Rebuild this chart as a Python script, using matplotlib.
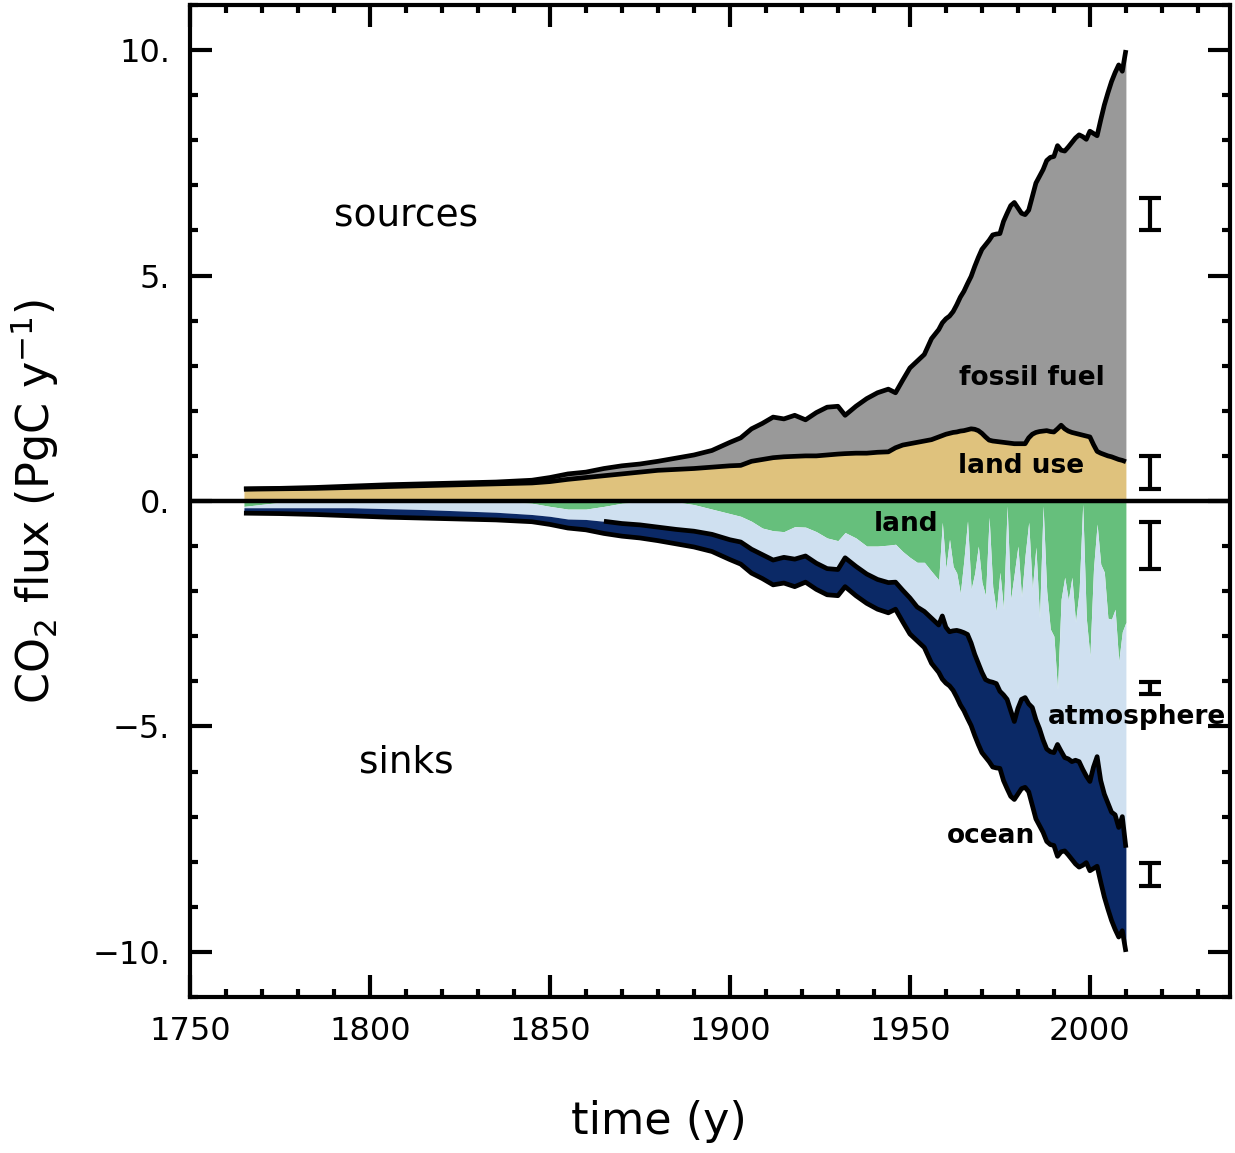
import numpy as np
import matplotlib
matplotlib.use('Agg')
import matplotlib.pyplot as plt
from matplotlib.ticker import MultipleLocator, FuncFormatter

plt.rcParams['font.family'] = ['DejaVu Sans']

# years: coarse before 1958, annual after
years = [1765, 1775, 1785, 1795, 1805, 1815, 1825, 1835, 1845,
         1850, 1855, 1860, 1865, 1870, 1875, 1880, 1885, 1890, 1895, 1900,
         1903, 1906, 1909, 1912, 1915, 1918, 1921, 1924, 1927, 1930,
         1932, 1935, 1938, 1941, 1944,
         1946, 1948, 1950, 1952, 1954, 1956] + list(range(1958, 2011))

# sources (PgC/y)
fossil_fuel = [0.01, 0.01, 0.02, 0.03, 0.04, 0.04, 0.04, 0.04, 0.06,
               0.09, 0.12, 0.12, 0.16, 0.18, 0.18, 0.20, 0.25, 0.30, 0.37, 0.52,
               0.61, 0.72, 0.80, 0.90, 0.84, 0.91, 0.80, 0.96, 1.06, 1.06,
               0.85, 1.04, 1.21, 1.32, 1.39,
               1.22, 1.44, 1.68, 1.80, 1.92, 2.24,
               2.38, 2.50, 2.56, 2.60, 2.68, 2.82, 2.97, 3.09, 3.24, 3.38,
               3.61, 3.84, 4.08, 4.26, 4.43, 4.57, 4.60, 4.62, 4.90, 5.09,
               5.27, 5.35, 5.23, 5.11, 5.08, 5.05, 5.27, 5.53, 5.66, 5.80,
               5.99, 6.08, 6.11, 6.28, 6.10, 6.16, 6.30, 6.43, 6.55, 6.64,
               6.62, 6.58, 6.78, 6.90, 7.00, 7.39, 7.75, 8.05, 8.32, 8.55,
               8.75, 8.63, 9.13]
land_use = [0.26, 0.27, 0.28, 0.30, 0.32, 0.34, 0.36, 0.38, 0.40,
            0.43, 0.48, 0.52, 0.56, 0.60, 0.64, 0.68, 0.70, 0.72, 0.75, 0.78,
            0.79, 0.88, 0.92, 0.96, 0.98, 0.99, 1.00, 1.00, 1.02, 1.04,
            1.05, 1.06, 1.06, 1.08, 1.09,
            1.18, 1.24, 1.27, 1.30, 1.33, 1.36,
            1.42, 1.45, 1.48, 1.50, 1.52, 1.53, 1.55, 1.56, 1.58, 1.60,
            1.59, 1.56, 1.50, 1.42, 1.35, 1.33, 1.32, 1.31, 1.30, 1.29,
            1.28, 1.27, 1.27, 1.27, 1.27, 1.40, 1.48, 1.52, 1.54, 1.55,
            1.56, 1.54, 1.53, 1.60, 1.68, 1.60, 1.55, 1.52, 1.50, 1.48,
            1.46, 1.44, 1.42, 1.25, 1.10, 1.06, 1.03, 1.00, 0.98, 0.95,
            0.92, 0.90, 0.87]

# sinks (magnitudes, PgC/y); atmosphere is the remainder
ocean_sink = [0.12, 0.13, 0.15, 0.18, 0.19, 0.19, 0.18, 0.17, 0.16,
              0.18, 0.20, 0.23, 0.27, 0.28, 0.29, 0.30, 0.32, 0.35, 0.38, 0.44,
              0.49, 0.53, 0.53, 0.55, 0.57, 0.61, 0.58, 0.58, 0.58, 0.58,
              0.64, 0.65, 0.65, 0.66, 0.67,
              0.60, 0.70, 0.80, 0.75, 0.80, 1.00,
              1.05, 1.40, 1.24, 1.20, 1.32, 1.48, 1.63, 1.73, 1.86, 1.83,
              1.80, 1.80, 1.78, 1.72, 1.78, 1.88, 1.87, 1.71, 1.90, 1.98,
              1.90, 1.73, 1.90, 1.98, 1.99, 1.95, 2.17, 2.20, 2.15, 2.05,
              2.05, 2.06, 2.06, 2.48, 2.23, 2.07, 2.13, 2.17, 2.30, 2.34,
              2.13, 1.92, 1.98, 2.25, 2.43, 2.25, 2.28, 2.35, 2.40, 2.54,
              2.43, 2.53, 2.31]
land_sink = [0.12, 0.03, 0.0, 0.0, 0.0, 0.0, 0.0, 0.0, 0.05,
             0.12, 0.18, 0.18, 0.12, 0.05, 0.02, 0.0, 0.02, 0.08, 0.18, 0.28,
             0.34, 0.45, 0.60, 0.66, 0.68, 0.57, 0.58, 0.68, 0.82, 0.88,
             0.70, 0.82, 1.00, 1.00, 0.98,
             0.96, 1.12, 1.25, 1.36, 1.36, 1.56,
             1.75, 0.47, 1.50, 0.85, 1.45, 1.60, 2.05, 1.30, 0.44, 1.96,
             1.60, 1.00, 1.80, 2.10, 0.36, 1.90, 2.45, 1.58, 2.40, 0.11,
             2.18, 1.60, 1.00, 2.13, 1.20, 0.47, 1.96, 1.02, 2.60, 0.11,
             2.00, 2.84, 3.00, 4.18, 2.18, 1.69, 2.20, 1.69, 2.69, 2.00,
             0.07, 2.60, 3.44, 1.50, 0.51, 1.40, 1.58, 2.60, 2.62, 2.40,
             3.56, 2.90, 2.69]

# uncertainty bars (fossil fuel, land use, land, atmosphere, ocean)
err_low = [6.0, 0.27, -1.51, -4.27, -8.53]
err_high = [6.71, 1.0, -0.47, -4.02, -8.02]
err_year = 2016.8

yr = np.array(years)
ff = np.array(fossil_fuel)
lu = np.array(land_use)
oc = np.array(ocean_sink)
ls = np.array(land_sink)
total = ff + lu

c_ff = '#999999'
c_lu = '#dfc27d'
c_land = '#66bf7c'
c_atm = '#cfe0f0'
c_ocean = '#0b2966'

fig = plt.figure(figsize=(12.35, 11.53), dpi=100)
ax = fig.add_axes([0.1538, 0.1353, 0.8424, 0.8604])

ax.fill_between(yr, 0, lu, color=c_lu, lw=0)
ax.fill_between(yr, lu, total, color=c_ff, lw=0)
ax.fill_between(yr, 0, -ls, color=c_land, lw=0)
ax.fill_between(yr, -ls, -(total - oc), color=c_atm, lw=0)
ax.fill_between(yr, -(total - oc), -total, color=c_ocean, lw=0)

kw = dict(color='black', lw=3.4, solid_joinstyle='round', solid_capstyle='butt')
ax.plot(yr, total, **kw)
ax.plot(yr, lu, **kw)
ax.plot(yr, -total, **kw)
i0 = years.index(1865)
ax.plot(yr[i0:], -(total - oc)[i0:], **kw)
ax.axhline(0, color='black', lw=3.2)

for lo, hi in zip(err_low, err_high):
    ax.errorbar([err_year], [(lo + hi) / 2], yerr=[(hi - lo) / 2], fmt='none',
                ecolor='black', elinewidth=3, capsize=8, capthick=3)

ax.text(1810, 6.3, 'sources', fontsize=27, ha='center', va='center')
ax.text(1810, -5.8, 'sinks', fontsize=27, ha='center', va='center')
lab = dict(fontsize=19, fontweight='bold', ha='center', va='center')
ax.text(1984, 2.72, 'fossil fuel', **lab)
ax.text(1981, 0.78, 'land use', **lab)
ax.text(1949, -0.5, 'land', **lab)
ax.text(2013, -4.8, 'atmosphere', **lab)
ax.text(1972.5, -7.42, 'ocean', **lab)

ax.set_xlim(1750, 2039)
ax.set_ylim(-11, 11)
ax.xaxis.set_major_locator(MultipleLocator(50))
ax.xaxis.set_minor_locator(MultipleLocator(10))
ax.yaxis.set_major_locator(MultipleLocator(5))
ax.yaxis.set_minor_locator(MultipleLocator(1))
ax.yaxis.set_major_formatter(FuncFormatter(lambda v, p: '%d.' % v if v >= 0 else '\u2212%d.' % -v))
ax.tick_params(which='both', direction='in', top=True, right=True, width=3, labelsize=23)
ax.tick_params(which='major', length=16, pad=14)
ax.tick_params(which='minor', length=6)
for s in ax.spines.values():
    s.set_linewidth(3)

ax.set_xlabel('time (y)', fontsize=32)
ax.set_ylabel(r'$\mathregular{CO_2}$ flux (PgC $\mathregular{y^{-1}}$)', fontsize=32)
ax.xaxis.set_label_coords(0.451, -0.104)
ax.yaxis.set_label_coords(-0.124, 0.5)

plt.savefig('out.png', dpi=100)
